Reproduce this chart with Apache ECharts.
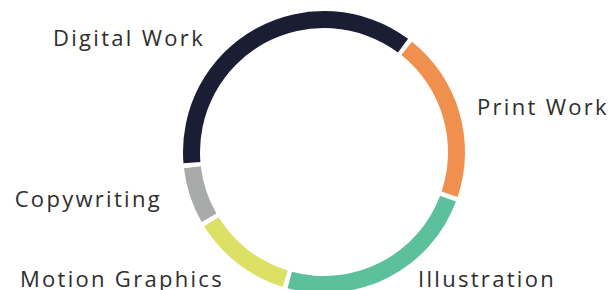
<!DOCTYPE html>
<html>
<head>
<meta charset="utf-8">
<script src="https://cdn.jsdelivr.net/npm/echarts@6/dist/echarts.min.js"></script>
<style>
  html, body { margin: 0; padding: 0; background: #fff; }
  #chart { width: 613px; height: 290px; }
  /* the original type is wide and loosely set */
  #chart text { letter-spacing: 2.3px; }
</style>
</head>
<body>
<div id="chart"></div>
<script>
// share of work, clockwise from the left side of the ring
const categories = ['Digital Work', 'Print Work', 'Illustration', 'Motion Graphics', 'Copywriting'];
const values = [37, 20, 24, 12, 7];
const colors = ['#1a1d33', '#f0904f', '#5cc09c', '#dce065', '#a9abab'];

// where each label sits (x, y, alignment)
const labelSpots = [
  { x: 205, y: 37, align: 'right' },
  { x: 477, y: 106, align: 'left' },
  { x: 418, y: 278, align: 'left' },
  { x: 224, y: 278, align: 'right' },
  { x: 162, y: 198, align: 'right' }
];

const chart = echarts.init(document.getElementById('chart'), null, { renderer: 'svg' });

chart.setOption({
  animation: false,
  series: [{
    type: 'pie',
    center: [324, 152],
    radius: [124, 141],
    startAngle: 185.6,
    padAngle: 2,
    clockwise: true,
    avoidLabelOverlap: false,
    emphasis: { scale: false },
    label: {
      show: true,
      position: 'outside',
      formatter: '{b}',
      fontFamily: 'Open Sans',
      fontSize: 22,
      color: '#2e2e2e'
    },
    labelLine: { show: false },
    labelLayout: function (p) {
      const s = labelSpots[p.dataIndex];
      return { x: s.x, y: s.y, align: s.align, verticalAlign: 'middle' };
    },
    data: categories.map((name, i) => ({
      name: name,
      value: values[i],
      itemStyle: { color: colors[i] }
    }))
  }]
});
</script>
</body>
</html>
